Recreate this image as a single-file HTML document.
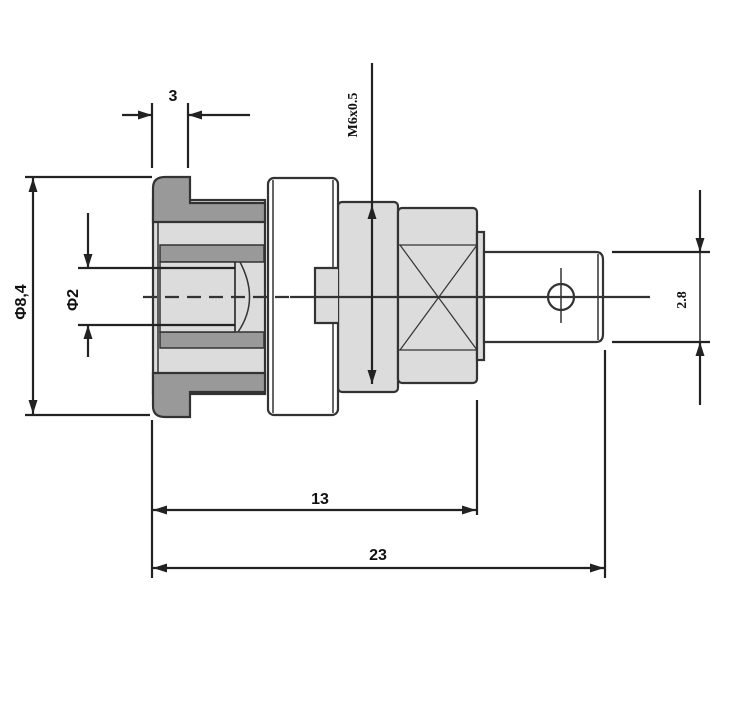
<!DOCTYPE html>
<html><head><style>body{margin:0;background:#fff}svg{display:block}</style></head><body>
<svg width="742" height="716" viewBox="0 0 742 716" xmlns="http://www.w3.org/2000/svg">
<defs>
<marker id="a" viewBox="0 0 14 10" refX="14" refY="5" markerWidth="14" markerHeight="10" orient="auto-start-reverse" markerUnits="userSpaceOnUse"><path d="M0,0.5 L14,5 L0,9.5 Z" fill="#222"/></marker>
</defs>
<g stroke="#333" stroke-width="2.2" fill="none">
<rect x="153" y="200" width="112" height="194" fill="#dcdcdc"/>
<path d="M165,177 H190 V203 H265 V222 H153 V188 Q153,177 165,177 Z" fill="#999"/>
<path d="M165,417 H190 V392 H265 V373 H153 V406 Q153,417 165,417 Z" fill="#999"/>
<rect x="160" y="245" width="104" height="17" fill="#999" stroke-width="1.5"/>
<rect x="160" y="332" width="104" height="16" fill="#999" stroke-width="1.5"/>
<rect x="160" y="262" width="75" height="70" fill="#dcdcdc" stroke-width="1.5"/>
<path d="M235,262 V332 M240,262 Q260,300 238,332" stroke-width="1.5"/>
<line x1="158" y1="222" x2="158" y2="373" stroke-width="1.5"/>
<rect x="338" y="202" width="60" height="190" fill="#dcdcdc" rx="4"/>
<rect x="268" y="178" width="70" height="237" rx="6" fill="#fff"/>
<line x1="273" y1="180" x2="273" y2="413" stroke-width="1.5"/>
<line x1="333" y1="180" x2="333" y2="413" stroke-width="1.5"/>
<path d="M338,268 H315 V323 H338" fill="#dcdcdc"/>
<rect x="398" y="208" width="79" height="175" rx="4" fill="#dcdcdc"/>
<path d="M398,245 H477 M398,350 H477 M400,245 L477,350 M400,350 L477,245" stroke-width="1.2"/>
<rect x="477" y="232" width="7" height="128" fill="#dcdcdc"/>
<path d="M484,252 H596 Q603,252 603,260 V334 Q603,342 596,342 H484 Z" fill="#fff"/>
<line x1="598" y1="254" x2="598" y2="340" stroke-width="1.5"/>
<circle cx="561" cy="297" r="13"/>
<line x1="561" y1="268" x2="561" y2="323" stroke-width="1.5"/>
<line x1="143" y1="297" x2="290" y2="297" stroke-dasharray="14,8"/>
<line x1="290" y1="297" x2="650" y2="297"/>
</g>
<g stroke="#222" stroke-width="2.2" fill="none">
<line x1="152" y1="103" x2="152" y2="168"/>
<line x1="188" y1="103" x2="188" y2="168"/>
<line x1="122" y1="115" x2="152" y2="115" marker-end="url(#a)"/>
<line x1="250" y1="115" x2="188" y2="115" marker-end="url(#a)"/>
<line x1="372" y1="63" x2="372" y2="205"/>
<line x1="372" y1="205" x2="372" y2="384" marker-start="url(#a)" marker-end="url(#a)"/>
<line x1="25" y1="177" x2="152" y2="177"/>
<line x1="25" y1="415" x2="150" y2="415"/>
<line x1="33" y1="178" x2="33" y2="414" marker-start="url(#a)" marker-end="url(#a)"/>
<line x1="78" y1="268" x2="235" y2="268"/>
<line x1="78" y1="325" x2="235" y2="325"/>
<line x1="88" y1="213" x2="88" y2="268" marker-end="url(#a)"/>
<line x1="88" y1="357" x2="88" y2="325" marker-end="url(#a)"/>
<line x1="612" y1="252" x2="710" y2="252"/>
<line x1="612" y1="342" x2="710" y2="342"/>
<line x1="700" y1="190" x2="700" y2="252" marker-end="url(#a)"/>
<line x1="700" y1="405" x2="700" y2="342" marker-end="url(#a)"/>
<line x1="700" y1="252" x2="700" y2="342" stroke-width="1.5"/>
<line x1="152" y1="420" x2="152" y2="578"/>
<line x1="477" y1="400" x2="477" y2="515"/>
<line x1="605" y1="350" x2="605" y2="578"/>
<line x1="153" y1="510" x2="476" y2="510" marker-start="url(#a)" marker-end="url(#a)"/>
<line x1="153" y1="568" x2="604" y2="568" marker-start="url(#a)" marker-end="url(#a)"/>
</g>
<g font-family="Liberation Sans, sans-serif" font-weight="bold" font-size="16" fill="#111">
<text x="173" y="101" text-anchor="middle">3</text>
<text x="320" y="504" text-anchor="middle">13</text>
<text x="378" y="560" text-anchor="middle">23</text>
<text transform="translate(26,302) rotate(-90)" text-anchor="middle">Φ8,4</text>
<text transform="translate(78,300) rotate(-90)" text-anchor="middle">Φ2</text>
</g>
<g font-family="Liberation Serif, serif" font-size="14" fill="#111" font-weight="bold">
<text transform="translate(357,115) rotate(-90)" text-anchor="middle">M6x0.5</text>
<text transform="translate(686,300) rotate(-90)" text-anchor="middle">2.8</text>
</g>
</svg>
</body></html>
